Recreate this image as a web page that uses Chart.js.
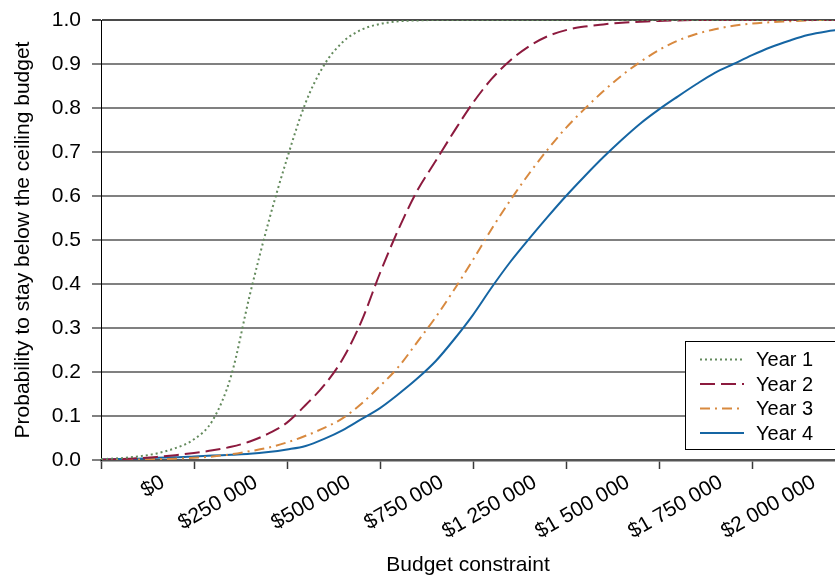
<!DOCTYPE html>
<html>
<head>
<meta charset="utf-8">
<script src="https://cdn.jsdelivr.net/npm/chart.js@4/dist/chart.umd.min.js"></script>
<style>
  html, body { margin: 0; padding: 0; background: #ffffff; }
  canvas { display: block; }
</style>
</head>
<body>
<canvas id="chart" width="835" height="576"></canvas>
<script>
// Budget levels (dollars) at which each cumulative probability is given
const budget = [
  0, 50000, 100000, 150000, 200000, 250000, 300000, 350000, 400000, 450000,
  500000, 550000, 600000, 650000, 700000, 750000, 800000, 850000, 900000, 950000,
  1000000, 1050000, 1100000, 1150000, 1200000, 1250000, 1300000, 1350000, 1400000, 1450000,
  1500000, 1550000, 1600000, 1650000, 1700000, 1750000, 1800000, 1850000, 1900000, 1950000,
  2000000
];

const year1 = [
  0.002, 0.004, 0.008, 0.015, 0.027, 0.047, 0.090, 0.192, 0.375, 0.540,
  0.685, 0.812, 0.898, 0.950, 0.978, 0.991, 0.997, 0.999, 1.000, 1.000,
  1.000, 1.000, 1.000, 1.000, 1.000, 1.000, 1.000, 1.000, 1.000, 1.000,
  1.000, 1.000, 1.000, 1.000, 1.000, 1.000, 1.000, 1.000, 1.000, 1.000,
  1.000
];

const year2 = [
  0.001, 0.002, 0.004, 0.007, 0.011, 0.016, 0.022, 0.030, 0.042, 0.060,
  0.085, 0.125, 0.170, 0.230, 0.315, 0.425, 0.525, 0.612, 0.680, 0.748,
  0.812, 0.866, 0.908, 0.940, 0.963, 0.977, 0.985, 0.990, 0.994, 0.996,
  0.998, 0.999, 1.000, 1.000, 1.000, 1.000, 1.000, 1.000, 1.000, 1.000,
  1.000
];

const year3 = [
  0.000, 0.000, 0.001, 0.002, 0.003, 0.005, 0.008, 0.013, 0.020, 0.028,
  0.040, 0.055, 0.073, 0.095, 0.128, 0.168, 0.212, 0.268, 0.325, 0.388,
  0.455, 0.525, 0.590, 0.650, 0.705, 0.755, 0.798, 0.838, 0.874, 0.905,
  0.932, 0.953, 0.968, 0.979, 0.987, 0.992, 0.995, 0.997, 0.999, 1.000,
  1.000
];

const year4 = [
  0.001, 0.002, 0.003, 0.005, 0.006, 0.008, 0.010, 0.012, 0.014, 0.018,
  0.024, 0.032, 0.048, 0.068, 0.093, 0.118, 0.150, 0.185, 0.225, 0.275,
  0.330, 0.392, 0.450, 0.502, 0.552, 0.600, 0.645, 0.688, 0.728, 0.765,
  0.797, 0.826, 0.854, 0.880, 0.900, 0.920, 0.938, 0.953, 0.966, 0.974,
  0.979
];

const seriesNames = ['Year 1', 'Year 2', 'Year 3', 'Year 4'];

// Budget axis ticks and their printed labels
const tickValues = [0, 250000, 500000, 750000, 1000000, 1250000, 1500000, 1750000];
const tickLabels = ['$0', '$250 000', '$500 000', '$750 000', '$1 250 000', '$1 500 000', '$1 750 000', '$2 000 000'];
const xMax = 1973000;

const yTicks = [0, 0.1, 0.2, 0.3, 0.4, 0.5, 0.6, 0.7, 0.8, 0.9, 1.0];

const FONT = '"Liberation Sans", Arial, Helvetica, sans-serif';

const toPoints = (ys) => budget.map((b, i) => ({ x: b, y: ys[i] }));

const styles = [
  { color: '#638a5c', dash: [2, 3] },
  { color: '#8c1a3e', dash: [15, 6] },
  { color: '#d8893f', dash: [10, 5, 2, 5] },
  { color: '#1565a3', dash: [] }
];

const datasets = [year1, year2, year3, year4].map((ys, i) => ({
  label: seriesNames[i],
  data: toPoints(ys),
  borderColor: styles[i].color,
  backgroundColor: styles[i].color,
  borderDash: styles[i].dash,
  borderWidth: 2,
  pointRadius: 0,
  fill: false,
  cubicInterpolationMode: 'monotone'
}));

// Boxed legend drawn inside the lower-right corner of the plot
const boxedLegend = {
  id: 'boxedLegend',
  afterDraw(chart) {
    const ctx = chart.ctx;
    const left = 685, top = 341, width = 170, height = 108;
    ctx.save();
    ctx.fillStyle = '#ffffff';
    ctx.fillRect(left, top, width, height);
    ctx.strokeStyle = '#000000';
    ctx.lineWidth = 1;
    ctx.strokeRect(left + 0.5, top + 0.5, width, height);
    chart.data.datasets.forEach((ds, i) => {
      const y = 359.5 + i * 24.5;
      ctx.beginPath();
      ctx.setLineDash(ds.borderDash || []);
      ctx.strokeStyle = ds.borderColor;
      ctx.lineWidth = 2;
      ctx.moveTo(700, y);
      ctx.lineTo(744, y);
      ctx.stroke();
      ctx.setLineDash([]);
      ctx.fillStyle = '#000000';
      ctx.font = '20px ' + FONT;
      ctx.textAlign = 'left';
      ctx.textBaseline = 'middle';
      ctx.fillText(ds.label, 756, y + 1);
    });
    ctx.restore();
  }
};

new Chart(document.getElementById('chart'), {
  type: 'line',
  data: { datasets },
  plugins: [boxedLegend],
  options: {
    responsive: false,
    animation: false,
    devicePixelRatio: 1,
    layout: { padding: { top: 20, right: 0, left: 0, bottom: 0 } },
    plugins: {
      legend: { display: false },
      tooltip: { enabled: false }
    },
    scales: {
      x: {
        type: 'linear',
        min: 0,
        max: xMax,
        afterBuildTicks: (scale) => { scale.ticks = tickValues.map(v => ({ value: v })); },
        afterFit: (scale) => { scale.height = 116; scale.paddingLeft = 0; scale.paddingRight = 0; },
        grid: {
          drawOnChartArea: false,
          drawTicks: true,
          tickLength: 9,
          tickColor: '#3a3a3a',
          tickWidth: 1.5
        },
        border: { display: true, color: '#555555', width: 2.5 },
        ticks: {
          autoSkip: false,
          minRotation: 30,
          maxRotation: 30,
          labelOffset: 62,
          padding: 1,
          color: '#000000',
          font: { family: FONT, size: 21 },
          callback: (value, index) => tickLabels[index]
        },
        title: {
          display: true,
          text: 'Budget constraint',
          color: '#000000',
          font: { family: FONT, size: 21, lineHeight: 1.0 },
          padding: { top: 0, bottom: 0 }
        }
      },
      y: {
        type: 'linear',
        min: 0,
        max: 1,
        afterBuildTicks: (scale) => { scale.ticks = yTicks.map(v => ({ value: v })); },
        afterFit: (scale) => { scale.width = 101; scale.paddingTop = 0; scale.paddingBottom = 0; },
        grid: {
          color: (c) => (c.tick && c.tick.value === 1 ? '#4a4a4a' : '#808080'),
          lineWidth: 2,
          tickLength: 9
        },
        border: { display: true, color: '#000000', width: 1 },
        ticks: {
          padding: 11,
          color: '#000000',
          font: { family: FONT, size: 21 },
          callback: (value) => value.toFixed(1)
        },
        title: {
          display: true,
          text: 'Probability to stay below the ceiling budget',
          color: '#000000',
          font: { family: FONT, size: 21, lineHeight: 1.2 },
          padding: { top: 11, bottom: 0 }
        }
      }
    }
  }
});
</script>
</body>
</html>
